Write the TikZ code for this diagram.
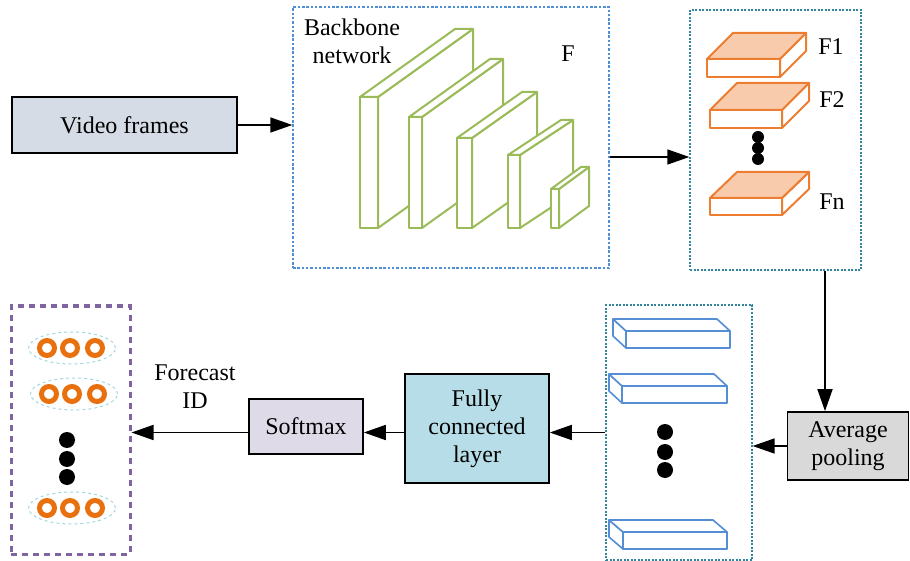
\documentclass[tikz,border=0pt]{standalone}
\usepackage{fontspec}
\setmainfont{Liberation Serif}
\usetikzlibrary{arrows.meta,shapes.geometric}

\definecolor{vidfill}{HTML}{D6DCE5}
\definecolor{bbblue}{HTML}{4F8FD6}
\definecolor{tealdot}{HTML}{31859C}
\definecolor{gline}{HTML}{9BBB59}
\definecolor{oline}{HTML}{ED7D31}
\definecolor{ofill}{HTML}{F8CBAD}
\definecolor{sline}{HTML}{558ED5}
\definecolor{avgfill}{HTML}{D9D9D9}
\definecolor{fcfill}{HTML}{B7DEE8}
\definecolor{smfill}{HTML}{DFDAE8}
\definecolor{outpurple}{HTML}{8064A2}
\definecolor{ellblue}{HTML}{A5D5E2}
\definecolor{ring}{HTML}{E8700F}

% green feature block: front x0..x1, top y0, bottom y1, depth offset (dx,dy)
\newcommand{\gblock}[6]{%
  \draw[gblk] (#2,#3) -- ({#2+#5},{#3+#6}) -- ({#2+#5},{#4+#6}) -- (#2,#4) -- cycle;
  \draw[gblk] (#1,#3) -- ({#1+#5},{#3+#6}) -- ({#2+#5},{#3+#6}) -- (#2,#3) -- cycle;
  \draw[gblk] (#1,#3) rectangle (#2,#4);}
% orange slab, depth to the upper right
\newcommand{\oslab}[6]{%
  \draw[oblk] (#2,#3) -- ({#2+#5},{#3+#6}) -- ({#2+#5},{#4+#6}) -- (#2,#4) -- cycle;
  \draw[oblk,fill=ofill] (#1,#3) -- ({#1+#5},{#3+#6}) -- ({#2+#5},{#3+#6}) -- (#2,#3) -- cycle;
  \draw[oblk] (#1,#3) rectangle (#2,#4);}
% blue slab, depth to the upper left
\newcommand{\bslab}[6]{%
  \draw[bblk] (#1,#3) -- ({#1+#5},{#3+#6}) -- ({#1+#5},{#4+#6}) -- (#1,#4) -- cycle;
  \draw[bblk] (#1,#3) -- ({#1+#5},{#3+#6}) -- ({#2+#5},{#3+#6}) -- (#2,#3) -- cycle;
  \draw[bblk] (#1,#3) rectangle (#2,#4);}

\begin{document}
\begin{tikzpicture}[x=1pt,y=-1pt,
  every node/.style={font=\fontsize{24}{28}\selectfont},
  box/.style={draw=black,line width=1.6pt,inner sep=0pt,align=center},
  frame/.style={draw,inner sep=0pt,line width=1.4pt},
  arr/.style={line width=1.6pt,-{Triangle[length=22pt,width=15pt]}},
  gblk/.style={draw=gline,fill=white,line width=2pt,line join=round},
  oblk/.style={draw=oline,fill=white,line width=2pt,line join=round},
  bblk/.style={draw=sline,fill=white,line width=1.6pt,line join=round},
  dotb/.style={fill=black,circle,inner sep=0pt,minimum size=16pt},
  ringc/.style={draw=ring,line width=5pt,fill=white,circle,inner sep=0pt,minimum size=15pt},
  ellc/.style={draw=ellblue,dashed,line width=1pt,ellipse,inner sep=0pt}]
\useasboundingbox (0,0) rectangle (910,561);

% input
\node[box,fill=vidfill,minimum width=225pt,minimum height=56pt] (video) at (124.5,125) {Video frames};

% backbone
\node[frame,draw=bbblue,dash pattern=on 2.5pt off 1.8pt,minimum width=316pt,minimum height=261pt] (backbone) at (451,137.5) {};
\node[align=center] (bbtxt) at (352,41) {Backbone\\network};
\node (ftxt) at (568,54) {F};
\gblock{360}{378}{97}{228}{95}{-68}
\gblock{409}{422}{117}{228}{81}{-58}
\gblock{457}{472}{138}{228}{65}{-46}
\gblock{508}{520}{155}{228}{53}{-35}
\gblock{551}{559}{189}{228}{30}{-22}

% feature maps
\node[frame,draw=tealdot,dash pattern=on 2pt off 1.5pt,minimum width=171pt,minimum height=260pt] (fb) at (775.5,140) {};
\oslab{707}{780}{59}{77}{26}{-26}
\oslab{710}{782}{110}{128}{27}{-27}
\oslab{710}{782}{198}{215}{27}{-26}
\node (f1) at (831,47) {F1};
\node (f2) at (832,100) {F2};
\node (fn) at (832,202) {Fn};
\node[dotb,minimum size=12pt] (fd1) at (758,137) {};
\node[dotb,minimum size=12pt] (fd2) at (758,148) {};
\node[dotb,minimum size=12pt] (fd3) at (758,159) {};

% pooling
\node[box,fill=avgfill,minimum width=121pt,minimum height=68pt] (avg) at (848,446) {Average\\pooling};

% pooled vectors
\node[frame,draw=tealdot,dash pattern=on 2pt off 1.5pt,line width=1.2pt,minimum width=146pt,minimum height=255pt] (pool) at (679,432.5) {};
\bslab{626}{730}{331}{348}{-13}{-12}
\bslab{622}{727}{386}{403}{-13}{-12}
\bslab{623}{727}{532}{549}{-14}{-12}
\node[dotb] (pd1) at (665,432) {};
\node[dotb] (pd2) at (665,452) {};
\node[dotb] (pd3) at (665,470) {};

% classifier
\node[box,fill=fcfill,minimum width=144pt,minimum height=109pt] (fc) at (477,428.5) {Fully\\connected\\layer};
\node[box,fill=smfill,minimum width=114pt,minimum height=55pt] (soft) at (306,426.5) {Softmax};

% output identities
\node[frame,draw=outpurple,line width=3pt,dash pattern=on 6pt off 5pt,minimum width=119pt,minimum height=248pt] (out) at (70.5,430) {};
\foreach \n/\cx/\cy in {a/72/348,b/74/394,c/72/508}{
  \node[ellc,minimum width=87pt,minimum height=32pt] (ell\n) at (\cx,\cy) {};
  \node[ringc] (r\n1) at ({\cx-25},\cy) {};
  \node[ringc] (r\n2) at ({\cx-2},\cy) {};
  \node[ringc] (r\n3) at ({\cx+23},\cy) {};
}
\node[dotb] (od1) at (67,440) {};
\node[dotb] (od2) at (67,459) {};
\node[dotb] (od3) at (67,477) {};
\node[align=center] (fid) at (195,387) {Forecast\\ID};

% connectors
\draw[arr] (video.east) -- (video.east -| backbone.west);
\draw[arr] ([yshift=-19.5pt]backbone.east) -- ([yshift=-19.5pt]backbone.east -| fb.west);
\draw[arr] ([xshift=49.5pt]fb.south) -- ([xshift=49.5pt]fb.south |- avg.north);
\draw[arr] (avg.west) -- (avg.west -| pool.east);
\draw[arr] (pool.west) -- (pool.west -| fc.east);
\draw[arr] (fc.west |- pool.west) -- (soft.east |- pool.west);
\draw[arr] (soft.west |- pool.west) -- (out.east |- pool.west);
\end{tikzpicture}
\end{document}
